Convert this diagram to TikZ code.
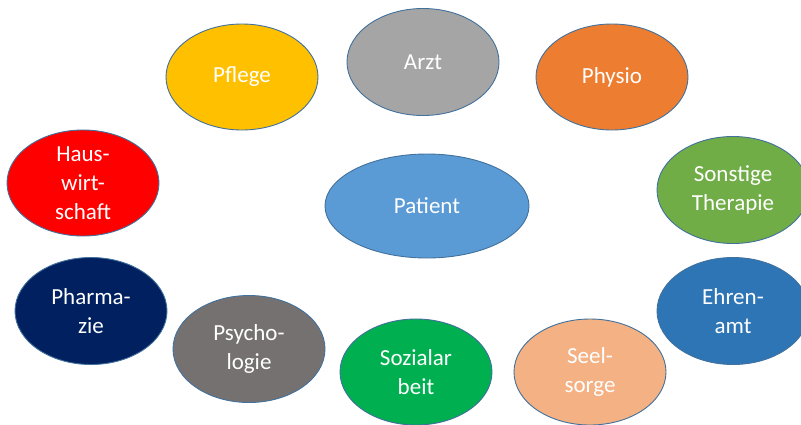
\documentclass[tikz,border=0pt]{standalone}
\usepackage{fontspec}
\setmainfont{Carlito}
\usepackage{xcolor}
\usepackage{tikz}
\usetikzlibrary{shapes.geometric}
\definecolor{rand}{RGB}{65,113,156}
\definecolor{cpflege}{RGB}{255,192,0}
\definecolor{carzt}{RGB}{165,165,165}
\definecolor{cphysio}{RGB}{237,125,49}
\definecolor{chaus}{RGB}{255,0,0}
\definecolor{cpatient}{RGB}{91,155,213}
\definecolor{ctherapie}{RGB}{112,173,71}
\definecolor{cpharma}{RGB}{0,32,96}
\definecolor{cpsycho}{RGB}{118,113,113}
\definecolor{csozial}{RGB}{0,176,80}
\definecolor{cseel}{RGB}{244,177,131}
\definecolor{cehren}{RGB}{46,117,182}

\begin{document}
\begin{tikzpicture}[
			x=1pt, y=-1pt,
			beruf/.style={ellipse, draw=rand, line width=0.9pt, inner sep=0pt, minimum width=152pt, minimum height=106pt, align=center, text=white, font=\fontsize{23}{29}\selectfont}
			]
			\useasboundingbox (0,0) rectangle (801,424);
			\clip (0,0) rectangle (801,424);
			\node[beruf, fill=cpflege] (pflege) at (242,77) {Pflege};
			\node[beruf, fill=carzt, minimum height=107pt] (arzt) at (423,62) {Arzt};
			\node[beruf, fill=cphysio] (physio) at (612,77) {Physio};
			\node[beruf, fill=chaus] (haus) at (83,183) {Haus-\\wirt-\\schaft};
			\node[beruf, fill=cpatient, minimum width=204pt, minimum height=104pt] (patient) at (427,206) {Patient};
			\node[beruf, fill=ctherapie, minimum height=107pt] (therapie) at (733,190) {Sonstige\\Therapie};
			\node[beruf, fill=cpharma, minimum height=107pt] (pharma) at (91,311) {Pharma-\\zie};
			\node[beruf, fill=cpsycho, minimum height=107pt] (psycho) at (249,349) {Psycho-\\logie};
			\node[beruf, fill=csozial] (sozial) at (416,372) {Sozialar\\beit};
			\node[beruf, fill=cseel] (seel) at (590,372) {Seel-\\sorge};
			\node[beruf, fill=cehren, minimum height=107pt] (ehren) at (733,311) {Ehren-\\amt};
		\end{tikzpicture}
\end{document}
